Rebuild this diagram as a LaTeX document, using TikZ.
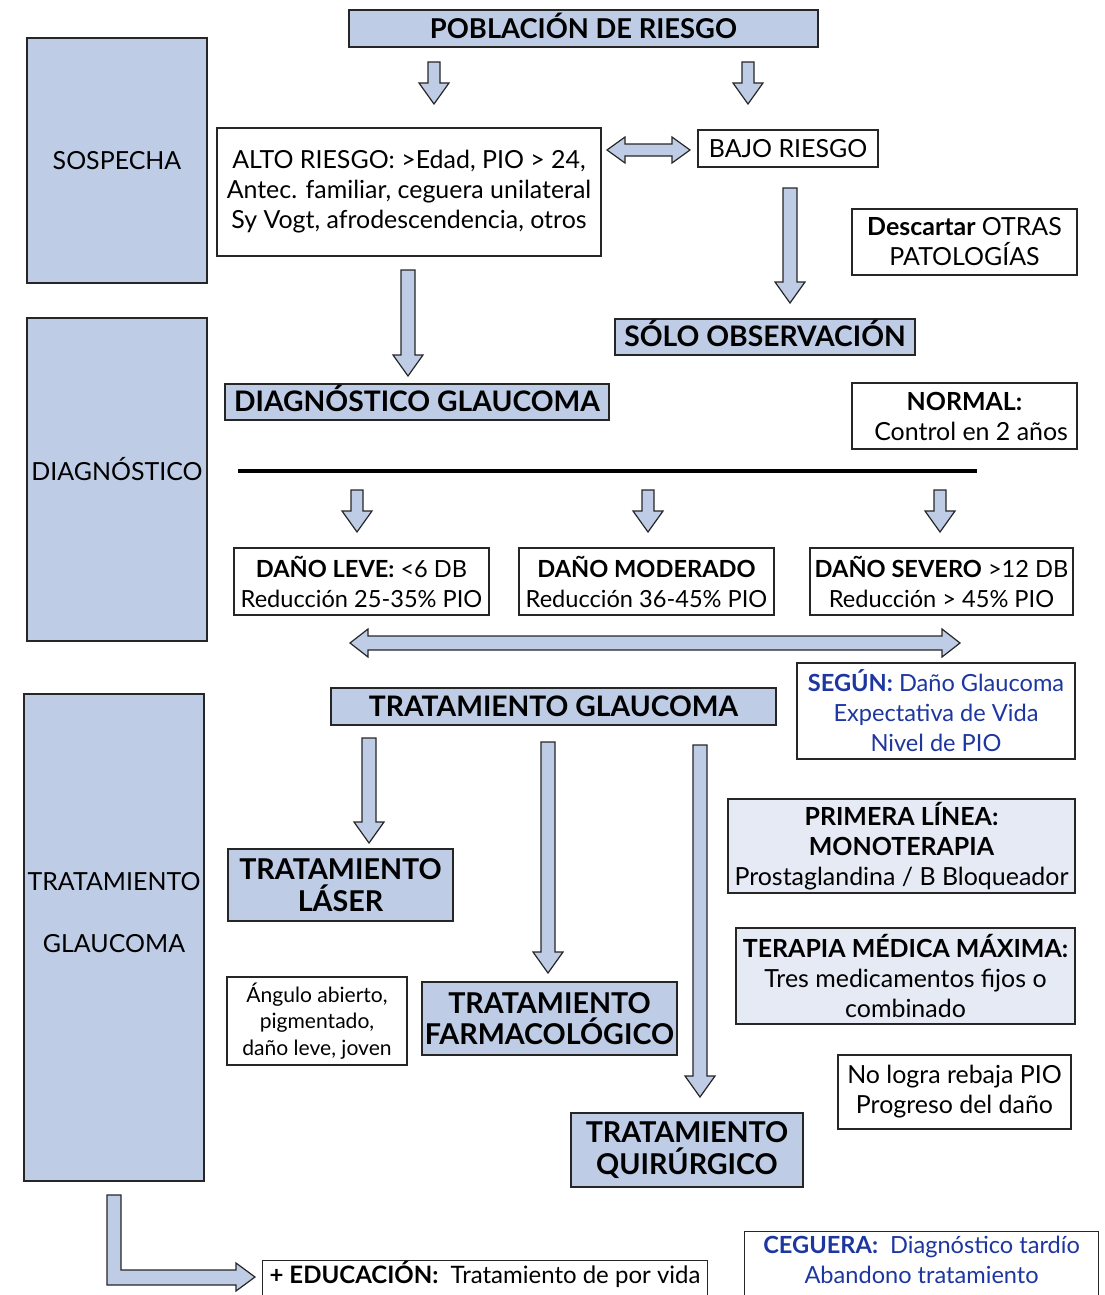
\documentclass[tikz,border=0pt]{standalone}
\usepackage{fontspec}
\setmainfont{Lato}
\definecolor{boxblue}{RGB}{190,204,230}
\definecolor{paleblue}{RGB}{230,234,245}
\definecolor{textblue}{RGB}{30,55,160}
\newcommand\fs[2]{\fontsize{#1}{#2}\selectfont}
% raise node text without changing the space it takes
\newcommand\liftlines[2]{\raisebox{#1}[\height][\depth]{\begin{tabular}{@{}c@{}}#2\end{tabular}}}
% vertical block arrow: x, top y, tip y, shaft half width
\newcommand\blockdown[4]{%
  \draw[blockarrow] (#1-#4,#2) -- (#1+#4,#2) -- (#1+#4,#3-21) -- (#1+15,#3-21)
    -- (#1,#3) -- (#1-15,#3-21) -- (#1-#4,#3-21) -- cycle;}
% horizontal double block arrow: left tip x, right tip x, y, shaft half, head half, head length
\newcommand\blockboth[6]{%
  \draw[blockarrow] (#1,#3) -- (#1+#6,#3-#5) -- (#1+#6,#3-#4) -- (#2-#6,#3-#4)
    -- (#2-#6,#3-#5) -- (#2,#3) -- (#2-#6,#3+#5) -- (#2-#6,#3+#4)
    -- (#1+#6,#3+#4) -- (#1+#6,#3+#5) -- cycle;}
\begin{document}
\begin{tikzpicture}[x=0.75pt,y=-0.75pt,
  px/.style 2 args={minimum width=#1*0.75pt, minimum height=#2*0.75pt, inner sep=0pt},
  fbox/.style={draw=black!85, line width=0.9pt, fill=boxblue, align=center},
  wbox/.style={draw=black!85, line width=0.9pt, fill=white, align=center},
  pbox/.style={draw=black!85, line width=0.9pt, fill=paleblue, align=center},
  blockarrow/.style={draw=black!85, line width=0.9pt, fill=boxblue, line join=miter},
  big/.style={font=\fs{21.2}{24}\bfseries, text height=15.2pt, text depth=0.5pt},
  body/.style={font=\fs{18.7}{22.5}},
  capbody/.style={text height=13.4pt, text depth=0.5pt},
  mid/.style={font=\fs{17.7}{22.5}},
  small/.style={font=\fs{15.8}{20}},
  heavy/.style={font=\fs{21.5}{23.5}\bfseries},
]
\useasboundingbox (0,0) rectangle (1104,1295);
\clip (0,0) rectangle (1104,1295);

% stage boxes on the left
\node[fbox, px={180}{245}, body, capbody] (sosp) at (117,160.5) {SOSPECHA};
\node[fbox, px={180}{323}, body, capbody] (diag) at (117,479.5) {\raisebox{5.5pt}[\height][\depth]{DIAGNÓSTICO}};
\node[fbox, px={180}{487}] (trat) at (114,937.5) {};
\node[body, align=center] (tratlbl) at (114,913) {TRATAMIENTO\\[24pt]GLAUCOMA};

% suspicion stage
\node[fbox, px={469}{37}, big, font=\fs{20.5}{24}\bfseries] (pob) at (583.5,28.5) {POBLACIÓN DE RIESGO};
\node[wbox, px={384}{128}, body] (alto) at (409,192)
  {ALTO RIESGO: >Edad, PIO > 24,\\Antec. familiar, ceguera unilateral\\Sy Vogt, afrodescendencia, otros};
\node[wbox, px={180}{37}, body, capbody] (bajo) at (788,148.5) {BAJO RIESGO};
\node[wbox, px={225}{66}, body] (desc) at (964.5,242) {\textbf{Descartar} OTRAS\\PATOLOGÍAS};
\node[fbox, px={300}{36}, big] (obs) at (765,337) {SÓLO OBSERVACIÓN};

% diagnosis stage
\node[fbox, px={384}{36}, big] (dg) at (417,402) {DIAGNÓSTICO GLAUCOMA};
\node[wbox, px={225}{66}, body] (normal) at (964.5,416) {\textbf{NORMAL:}\\\hspace*{10pt}Control en 2 años};
\coordinate (sepL) at (238,471);
\coordinate (sepR) at (977,471);
\draw[line width=3pt] (sepL) -- (sepR);
\node[wbox, px={255}{67}, mid] (leve) at (361.5,581.5) {\textbf{DAÑO LEVE:} <6 DB\\Reducción 25-35\% PIO};
\node[wbox, px={255}{67}, mid] (mod) at (646.5,581.5) {\textbf{DAÑO MODERADO}\\Reducción 36-45\% PIO};
\node[wbox, px={263}{67}, mid] (sev) at (941.5,581.5) {\textbf{DAÑO SEVERO} >12 DB\\Reducción > 45\% PIO};
\node[wbox, px={278}{96}, mid, text=textblue] (segun) at (936,711)
  {\textbf{SEGÚN:} Daño Glaucoma\\Expectativa de Vida\\Nivel de PIO};

% treatment stage
\node[fbox, px={445}{37}, big] (tg) at (553.5,706.5) {TRATAMIENTO GLAUCOMA};
\node[fbox, px={225}{72}, heavy] (laser) at (340.5,885) {TRATAMIENTO\\LÁSER};
\node[pbox, px={347}{94}, body] (prim) at (901.5,846)
  {\textbf{PRIMERA LÍNEA:}\\\textbf{MONOTERAPIA}\\Prostaglandina / B Bloqueador};
\node[pbox, px={339}{96}, body] (max) at (905.5,976)
  {\textbf{TERAPIA MÉDICA MÁXIMA:}\\Tres medicamentos fijos o\\combinado};
\node[wbox, px={180}{88}, small] (ang) at (317,1021) {Ángulo abierto,\\pigmentado,\\daño leve, joven};
\node[fbox, px={255}{73}, heavy] (farm) at (549.5,1018.5) {TRATAMIENTO\\FARMACOLÓGICO};
\node[wbox, px={233}{74}, body] (nolog) at (954.5,1092) {No logra rebaja PIO\\Progreso del daño};
\node[fbox, px={232}{74}, heavy] (quir) at (687,1150) {TRATAMIENTO\\QUIRÚRGICO};
\node[wbox, px={445}{40}, font=\fs{18}{22.5}, anchor=north west] (edu) at (262,1260)
  {\liftlines{3pt}{\textbf{+ EDUCACIÓN:}\ \ Tratamiento de por vida}};
\node[wbox, px={354}{70}, mid, text=textblue, anchor=north west] (ceg) at (744,1231)
  {\liftlines{3pt}{\textbf{CEGUERA:}\ \ Diagnóstico tardío\\Abandono tratamiento}};

% block arrows
\blockdown{434}{62}{104}{6}
\blockdown{748}{62}{104}{6}
\blockboth{607}{690}{150}{6}{13}{18}
\blockdown{790}{188}{303}{7}
\blockdown{408}{270}{376}{7}
\blockdown{357}{490}{532}{6}
\blockdown{648}{490}{532}{6}
\blockdown{940}{490}{532}{6}
\blockboth{350}{960}{643}{7}{14}{18}
\blockdown{369}{738}{843}{7}
\blockdown{548}{742}{973}{7}
\blockdown{700}{745}{1097}{7}
% elbow arrow from the treatment stage to education
\draw[blockarrow] (107,1195) -- (121,1195) -- (121,1270) -- (236,1270) -- (236,1263)
  -- (255,1277) -- (236,1291) -- (236,1285) -- (107,1285) -- cycle;
\end{tikzpicture}
\end{document}
